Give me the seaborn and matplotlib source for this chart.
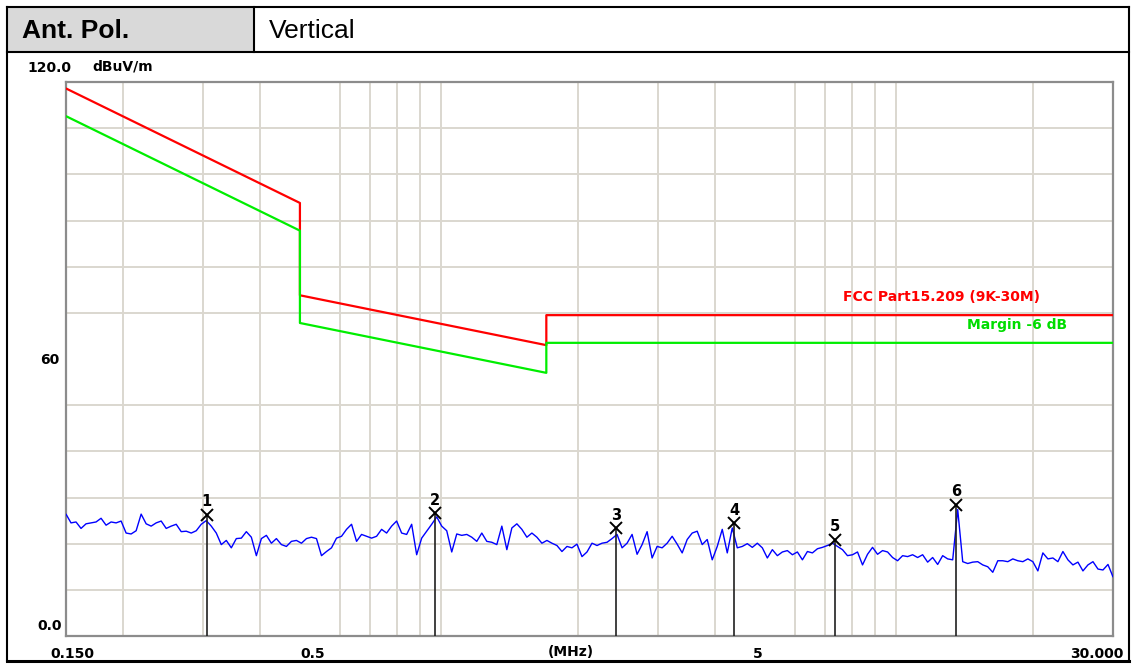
import numpy as np
import pandas as pd
import matplotlib
matplotlib.use("Agg")
import matplotlib.pyplot as plt
import seaborn as sns
from matplotlib.patches import Rectangle
from matplotlib.lines import Line2D
from matplotlib.transforms import ScaledTranslation

# ---------------- data ----------------
header_label = "Ant. Pol."
header_value = "Vertical"
y_unit = "dBuV/m"
x_unit = "(MHz)"
limit_name = "FCC Part15.209 (9K-30M)"
margin_name = "Margin -6 dB"

# measured trace (dBuV/m), sweep from 0.15 MHz to 30 MHz (log-spaced sweep points)
trace_start_mhz = 0.15
trace_stop_mhz = 30.0
trace_dbuv = [
    26.4, 24.5, 24.7, 23.3, 24.3, 24.5, 24.7, 25.5, 24.0, 24.7,
    24.5, 24.9, 22.3, 22.1, 22.8, 26.4, 24.3, 23.8, 24.5, 24.9,
    23.3, 23.8, 24.2, 22.6, 22.7, 22.3, 22.8, 24.2, 25.0, 23.8,
    22.3, 19.8, 20.7, 19.1, 21.1, 21.2, 22.6, 21.4, 17.4, 21.1,
    21.8, 20.1, 21.1, 19.8, 19.4, 20.5, 20.7, 20.1, 21.1, 21.4,
    21.1, 17.4, 18.3,
    19.1, 21.2, 21.6, 23.1, 24.2, 20.5, 22.0, 21.6, 21.2, 21.6,
    23.1, 22.3, 23.8, 24.9, 22.3, 22.0, 24.2, 17.6, 21.2, 22.7,
    24.2, 25.8, 23.8, 22.8, 18.2, 22.1, 21.8, 22.0, 21.4, 20.5,
    22.3, 20.5, 20.3, 19.8, 23.8, 18.7, 23.4, 24.3, 23.1, 21.4,
    22.3, 21.4, 20.1, 20.7, 20.1, 19.6, 18.3, 19.4, 19.1, 19.9,
    17.2, 18.2, 20.1,
    19.6, 20.1, 20.3, 21.1, 22.0, 19.1, 20.1, 22.0, 17.7, 19.8,
    22.6, 16.9, 19.4, 19.1, 20.1, 21.6, 19.9, 18.0, 20.9, 22.3,
    22.7, 19.8, 20.9, 16.5, 19.4, 23.1, 18.0, 23.4, 19.1, 19.4,
    20.0, 19.2, 20.1, 19.1, 16.9, 18.7, 17.4, 18.2, 18.5, 17.6,
    18.2, 16.5, 18.3, 18.0, 18.9, 19.2, 19.6, 20.1, 19.4, 18.7,
    17.4, 17.6, 18.2,
    15.4, 17.7, 19.2, 17.7, 18.5, 18.2, 17.0, 16.3, 17.4, 17.2,
    17.6, 17.0, 17.6, 16.0, 17.0, 15.5, 17.4, 16.7, 16.5, 27.4,
    16.1, 15.7, 16.0, 16.1, 15.4, 15.0, 13.8, 16.3, 16.3, 16.1,
    16.7, 16.3, 16.1, 16.7, 16.1, 14.1, 18.0, 16.7, 16.9, 16.1,
    18.3, 16.5, 15.4, 16.0, 14.1, 15.4, 16.1, 14.5, 14.3, 15.5,
    12.8,
]

limit_freq_mhz = [0.15, 0.49, 0.49, 1.705, 1.705, 30.0]
limit_dbuv = [118.6, 93.8, 73.8, 63.0, 69.5, 69.5]
margin_dbuv = [112.6, 87.8, 67.8, 57.0, 63.5, 63.5]

marker_ids = ["1", "2", "3", "4", "5", "6"]
marker_freq_mhz = [0.306, 0.971, 2.43, 4.41, 7.35, 13.56]
marker_dbuv = [26.2, 26.6, 23.3, 24.4, 20.8, 28.4]

xtick_values = [0.15, 0.5, 5, 30]
xtick_labels = ["0.150", "0.5", "5", "30.000"]
ytick_values = [0, 60, 120]
ytick_labels = ["0.0", "60", "120.0"]
xgrid_values = [0.2, 0.3, 0.4, 0.5, 0.6, 0.7, 0.8, 0.9,
                1, 2, 3, 4, 5, 6, 7, 8, 9, 10, 20]
ygrid_values = [10, 20, 30, 40, 50, 60, 70, 80, 90, 100, 110]

# ---------------- style ----------------
sns.set_theme(style="white")
plt.rcParams['font.family'] = ['DejaVu Sans']
plt.rcParams['text.color'] = 'black'

W, H = 1136, 667
fig = plt.figure(figsize=(W / 100, H / 100), dpi=100)
fig.patch.set_facecolor("white")

def fx(px):
    return px / W

def fy(py):
    return 1 - py / H

ax_l, ax_r, ax_t, ax_b = 66, 1113, 82, 636
ax = fig.add_axes([fx(ax_l), fy(ax_b), (ax_r - ax_l) / W, (ax_b - ax_t) / H])
ax.set_facecolor("white")

# ---------------- header table ----------------
fig.add_artist(Rectangle((fx(8), fy(52)), fx(254) - fx(8), fy(8) - fy(52),
                         transform=fig.transFigure, facecolor="#d9d9d9",
                         edgecolor="none", zorder=0))
def fline(xs, ys, lw):
    fig.add_artist(Line2D([fx(x) for x in xs], [fy(y) for y in ys],
                          transform=fig.transFigure, color="black", lw=lw,
                          solid_capstyle="projecting"))
fline([7, 1129], [7, 7], 1.5)
fline([7, 7], [7, 661], 1.5)
fline([1129, 1129], [7, 661], 1.5)
fline([7, 1129], [661, 661], 2.2)
fline([7, 1129], [52, 52], 1.5)
fline([254, 254], [7, 52], 1.5)
fig.text(fx(22), fy(31), header_label, fontsize=19, fontweight="bold",
         family="Liberation Sans", va="center", ha="left", color="black")
fig.text(fx(269), fy(31), header_value, fontsize=19,
         family="Liberation Sans", va="center", ha="left", color="black")

# ---------------- data layers ----------------
trace_df = pd.DataFrame({
    "freq": np.geomspace(trace_start_mhz, trace_stop_mhz, len(trace_dbuv)),
    "level": trace_dbuv,
})
limit_df = pd.DataFrame({"freq": limit_freq_mhz, "limit": limit_dbuv,
                         "margin": margin_dbuv})

ax.set_xscale("log")
sns.lineplot(data=limit_df, x="freq", y="limit", estimator=None, sort=False,
             color="#ff0000", lw=1.6, ax=ax, zorder=3)
sns.lineplot(data=limit_df, x="freq", y="margin", estimator=None, sort=False,
             color="#00ee00", lw=1.6, ax=ax, zorder=3)
sns.lineplot(data=trace_df, x="freq", y="level", estimator=None, sort=False,
             color="#0000ff", lw=1.0, ax=ax, zorder=4)

ax.vlines(marker_freq_mhz, 0, marker_dbuv, colors="#202020", lw=1.2, zorder=5)
ax.plot(marker_freq_mhz, marker_dbuv, ls="none", marker="x", color="black",
        markersize=8, mew=1.4, zorder=6)
for mid, f, v in zip(marker_ids, marker_freq_mhz, marker_dbuv):
    ax.annotate(mid, (f, v), xytext=(0, 9.5), textcoords="offset points",
                ha="center", va="center", fontsize=10.5, fontweight="bold",
                color="black", zorder=6)

ax.text(7.64, 73.4, limit_name, color="#ff0000", fontsize=10,
        fontweight="bold", ha="left", va="center")
ax.text(14.3, 67.3, margin_name, color="#00dd00", fontsize=10,
        fontweight="bold", ha="left", va="center")

# ---------------- axes ----------------
ax.set_xlim(trace_start_mhz, trace_stop_mhz)
ax.set_ylim(0, 120)
ax.set_xlabel("")
ax.set_ylabel("")

ax.set_xticks(xtick_values, xtick_labels)
ax.set_xticks(xgrid_values, minor=True)
ax.set_xticklabels([], minor=True)
ax.set_yticks(ytick_values, ytick_labels)
ax.set_yticks(ygrid_values, minor=True)
ax.set_yticklabels([], minor=True)
ax.grid(False, which="major")
ax.grid(True, which="minor", color="#dbd7cf", lw=1.4)
ax.set_axisbelow(True)
ax.tick_params(which="both", length=0)
ax.tick_params(axis="x", pad=8, labelsize=10)
ax.tick_params(axis="y", pad=3, labelsize=10)
for lbl in ax.get_xticklabels() + ax.get_yticklabels():
    lbl.set_fontweight("bold")
    lbl.set_color("black")

x_off = [6.5, 8.5, -1, -16.5]
for lbl, dx in zip(ax.get_xticklabels(), x_off):
    lbl.set_transform(lbl.get_transform() +
                      ScaledTranslation(dx / 100, 0, fig.dpi_scale_trans))
y_off = [(0, 11), (-2, 0), (10, 15)]
for lbl, (dx, dy) in zip(ax.get_yticklabels(), y_off):
    lbl.set_transform(lbl.get_transform() +
                      ScaledTranslation(dx / 100, dy / 100, fig.dpi_scale_trans))

fig.text(fx(92), fy(67), y_unit, fontsize=10, fontweight="bold",
         ha="left", va="center", color="black")
fig.text(fx(571), fy(652), x_unit, fontsize=10, fontweight="bold",
         ha="center", va="center", color="black")

for side in ["left", "right", "top", "bottom"]:
    ax.spines[side].set_visible(True)
    ax.spines[side].set_color("#8c8c8c")
    ax.spines[side].set_linewidth(1.6)

fig.savefig("out.png", dpi=100, facecolor="white")
